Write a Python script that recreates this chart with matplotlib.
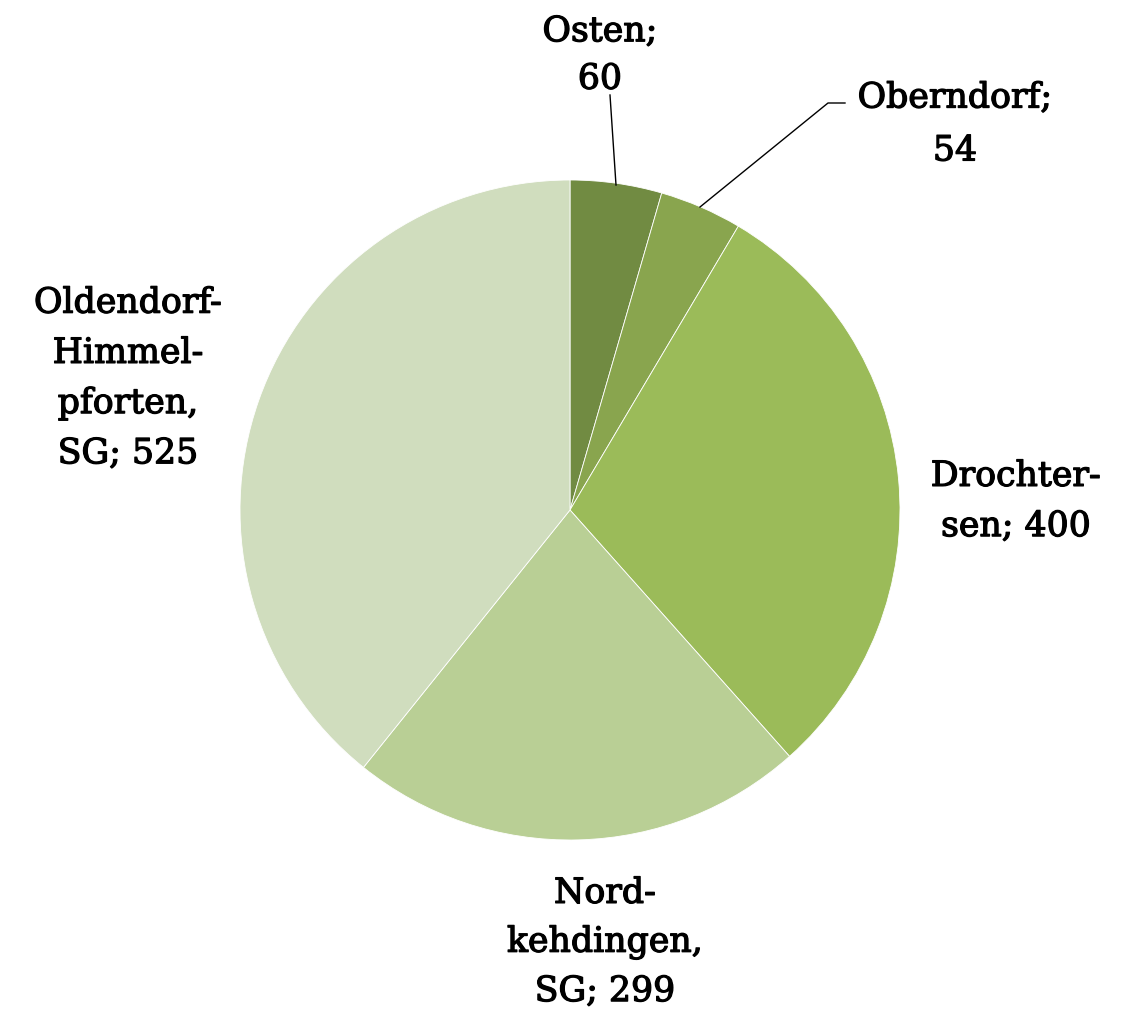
import matplotlib.pyplot as plt
import matplotlib.patheffects as pe

# data
names = ["Osten", "Oberndorf", "Drochtersen", "Nordkehdingen, SG", "Oldendorf-Himmelpforten, SG"]
values = [60, 54, 400, 299, 525]
colors = ["#718b42", "#89a54e", "#9bbb59", "#b9cf95", "#d0ddbe"]
label_texts = ["Osten;\n60", "Oberndorf;\n54", "Drochter-\nsen; 400",
               "Nord-\nkehdingen,\nSG; 299", "Oldendorf-\nHimmel-\npforten,\nSG; 525"]

W, H = 1124, 1017
fig = plt.figure(figsize=(W / 100, H / 100), dpi=100)
ax = fig.add_axes([0, 0, 1, 1])

cx, cy, r = 570, H - 510, 330
ax.pie(values, colors=colors, startangle=90, counterclock=False,
       center=(cx, cy), radius=r, frame=True,
       wedgeprops=dict(edgecolor='white', linewidth=0.6))
ax.set_xlim(0, W)
ax.set_ylim(0, H)
ax.set_aspect('equal')
ax.axis('off')

# label positions in pixels (from top), line spacing
pos = [(600, 55), (955, 124), (1016, 501), (605, 942), (128, 378)]
spacing = [1.5, 1.7, 1.6, 1.55, 1.6]
for (x, y), t, ls in zip(pos, label_texts, spacing):
    ax.text(x, H - y, t, family='DejaVu Serif', size=25, color='black',
            linespacing=ls, ha='center', va='center',
            path_effects=[pe.withStroke(linewidth=0.9, foreground='black')])

# leader lines
ax.plot([610, 616], [H - 95, H - 185], color='black', lw=1)
ax.plot([845, 828, 700], [H - 103, H - 103, H - 207], color='black', lw=1)

fig.savefig("out.png", dpi=100, facecolor='white')
